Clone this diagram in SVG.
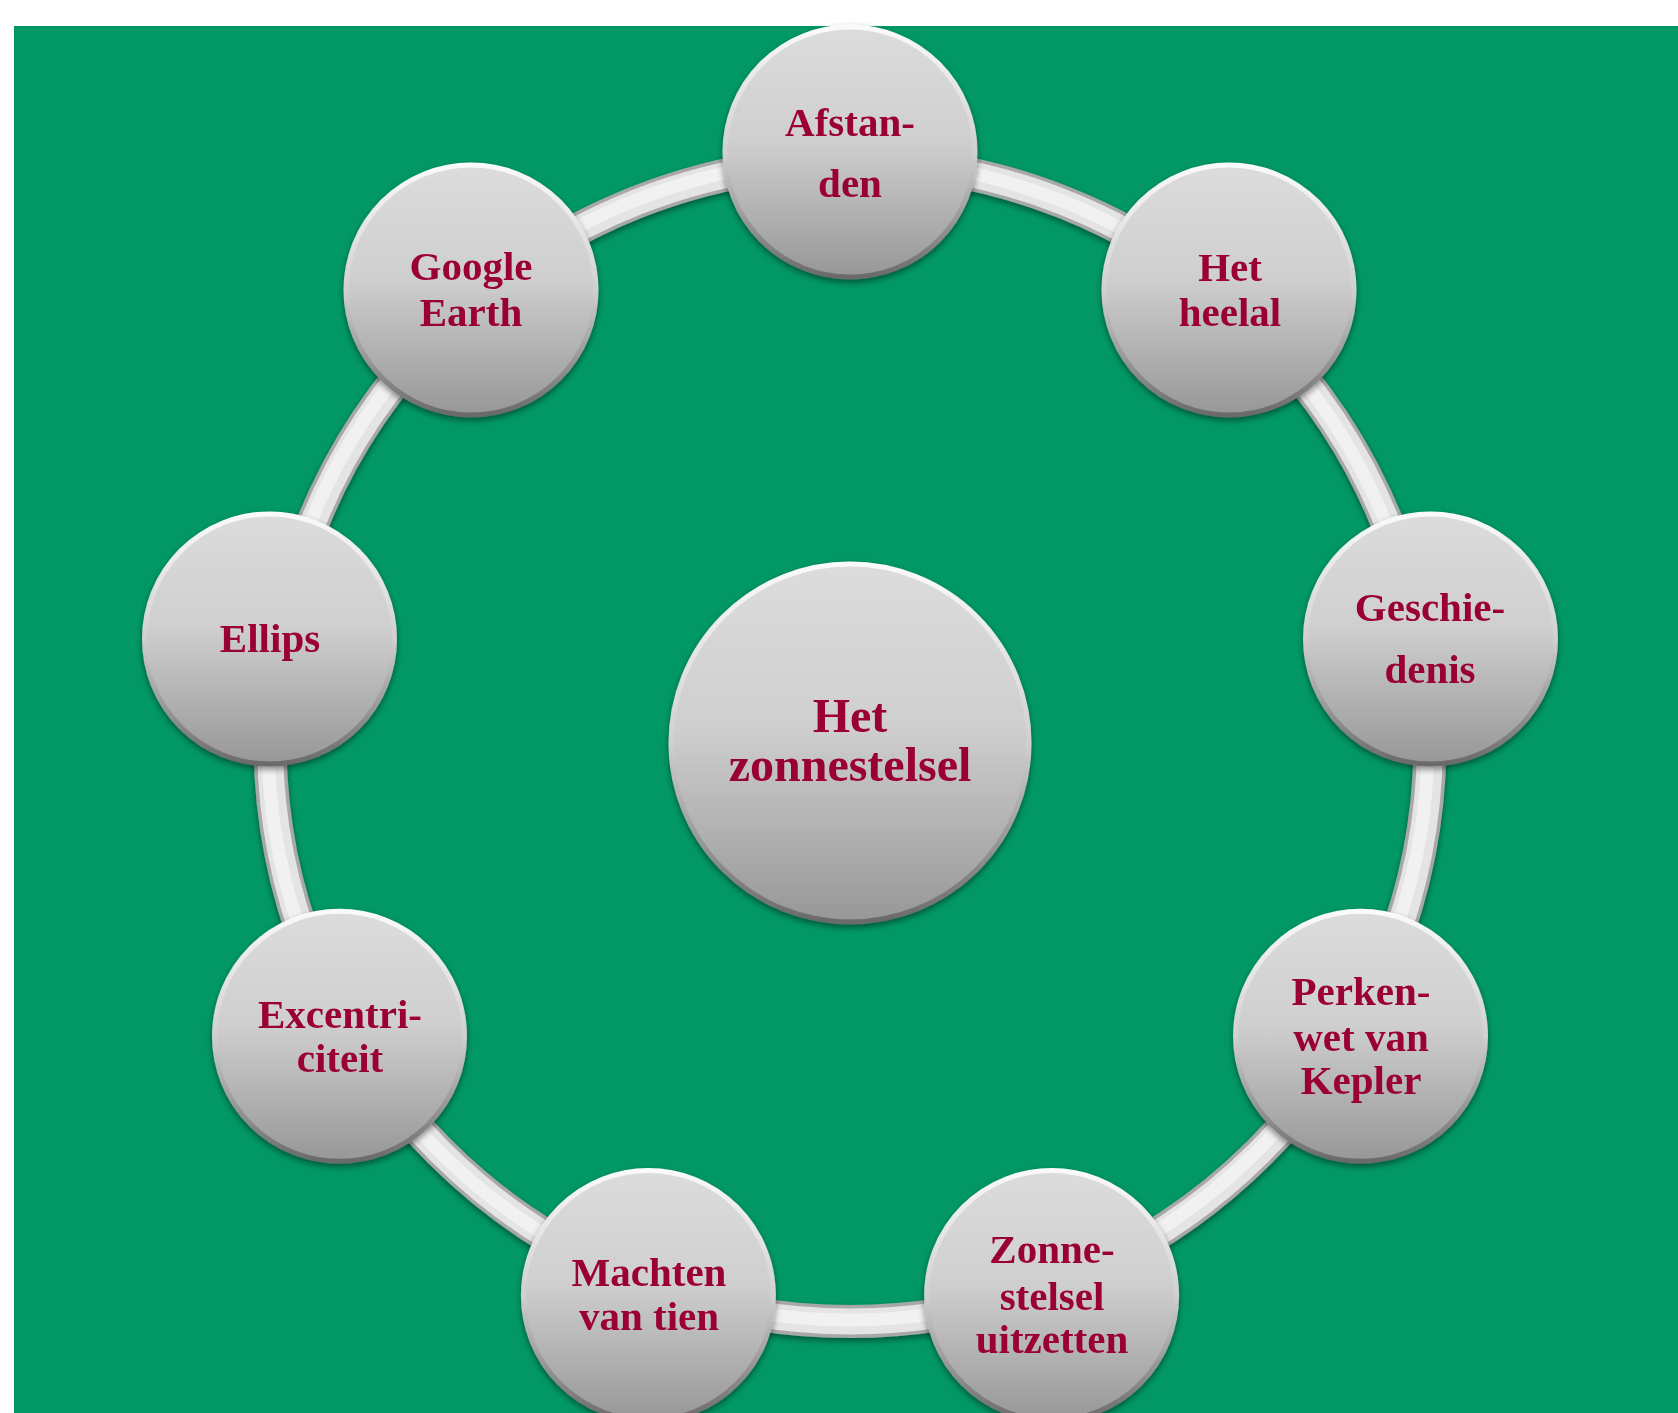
<svg xmlns="http://www.w3.org/2000/svg" width="1678" height="1413" viewBox="0 0 1678 1413">
<defs>
<linearGradient id="fillG" x1="0" y1="0" x2="0" y2="1">
<stop offset="0" stop-color="#dcdcdc"/>
<stop offset="0.45" stop-color="#cfcfcf"/>
<stop offset="1" stop-color="#979797"/>
</linearGradient>
<linearGradient id="rimG" x1="0" y1="0" x2="0" y2="1">
<stop offset="0" stop-color="#fafafa"/>
<stop offset="0.5" stop-color="#d0d0d0"/>
<stop offset="1" stop-color="#6a6a6a"/>
</linearGradient>
<filter id="shadow" x="-20%" y="-20%" width="140%" height="140%">
<feGaussianBlur in="SourceAlpha" stdDeviation="3"/>
<feOffset dx="0" dy="3" result="b"/>
<feComponentTransfer><feFuncA type="linear" slope="0.45"/></feComponentTransfer>
<feMerge><feMergeNode/><feMergeNode in="SourceGraphic"/></feMerge>
</filter>
<style>
.bg{fill:#019865}
.node circle.body{fill:url(#fillG);stroke:url(#rimG);stroke-width:5}
.lbl{font-family:"Liberation Serif","Times New Roman",serif;font-weight:bold;font-size:41px;fill:#9b0036;text-anchor:middle}
.big{font-size:48px}
.ring1{fill:none;stroke:#a8a8a8;stroke-width:33}
.ring2{fill:none;stroke:#e4e4e4;stroke-width:26}
.ring3{fill:none;stroke:#f1f1f1;stroke-width:13}
</style>
</defs>
<rect x="0" y="0" width="1678" height="1413" fill="#ffffff"/>
<rect class="bg" x="14" y="26" width="1664" height="1387"/>
<g id="connectors" filter="url(#shadow)">
<circle class="ring1" cx="850" cy="741.5" r="580"/>
<circle class="ring2" cx="850" cy="741.5" r="580"/>
<circle class="ring3" cx="848" cy="740" r="580"/>
</g>
<g id="center" class="node" filter="url(#shadow)">
<circle class="body" cx="850" cy="743" r="179"/>
<text class="lbl big" x="850" y="732">Het</text>
<text class="lbl big" x="850" y="781">zonnestelsel</text>
</g>
<g id="afstanden" class="node" filter="url(#shadow)">
<circle class="body" cx="850" cy="152" r="125"/>
<text class="lbl" x="850" y="136">Afstan-</text>
<text class="lbl" x="850" y="197">den</text>
</g>
<g id="heelal" class="node" filter="url(#shadow)">
<circle class="body" cx="1229" cy="290" r="125"/>
<text class="lbl" x="1230" y="281">Het</text>
<text class="lbl" x="1230" y="326">heelal</text>
</g>
<g id="geschiedenis" class="node" filter="url(#shadow)">
<circle class="body" cx="1430.5" cy="639" r="125"/>
<text class="lbl" x="1430" y="621">Geschie-</text>
<text class="lbl" x="1430" y="683">denis</text>
</g>
<g id="perkenwet" class="node" filter="url(#shadow)">
<circle class="body" cx="1360.5" cy="1036.3" r="125"/>
<text class="lbl" x="1361" y="1005">Perken-</text>
<text class="lbl" x="1361" y="1051">wet van</text>
<text class="lbl" x="1361" y="1094">Kepler</text>
</g>
<g id="zonnestelsel-uitzetten" class="node" filter="url(#shadow)">
<circle class="body" cx="1051.6" cy="1295.5" r="125"/>
<text class="lbl" x="1052" y="1263">Zonne-</text>
<text class="lbl" x="1052" y="1310">stelsel</text>
<text class="lbl" x="1052" y="1353">uitzetten</text>
</g>
<g id="machten" class="node" filter="url(#shadow)">
<circle class="body" cx="648.4" cy="1295.5" r="125"/>
<text class="lbl" x="649" y="1286">Machten</text>
<text class="lbl" x="649" y="1330">van tien</text>
</g>
<g id="excentriciteit" class="node" filter="url(#shadow)">
<circle class="body" cx="339.5" cy="1036.3" r="125"/>
<text class="lbl" x="340" y="1028">Excentri-</text>
<text class="lbl" x="340" y="1072">citeit</text>
</g>
<g id="ellips" class="node" filter="url(#shadow)">
<circle class="body" cx="269.5" cy="639" r="125"/>
<text class="lbl" x="270" y="652">Ellips</text>
</g>
<g id="google-earth" class="node" filter="url(#shadow)">
<circle class="body" cx="471" cy="290" r="125"/>
<text class="lbl" x="471" y="280">Google</text>
<text class="lbl" x="471" y="326">Earth</text>
</g>
</svg>
